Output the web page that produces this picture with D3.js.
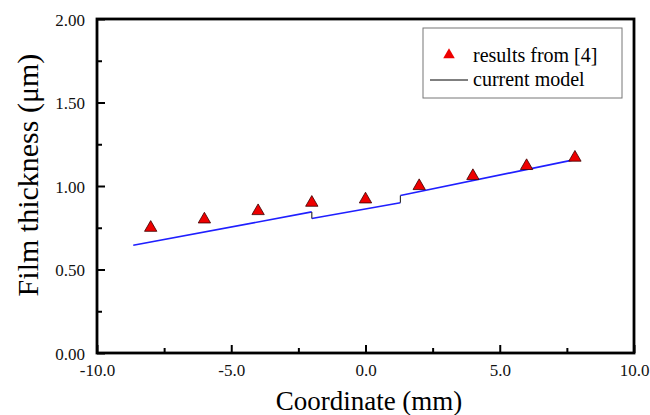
<!DOCTYPE html>
<html><head><meta charset="utf-8">
<script src="https://cdn.jsdelivr.net/npm/d3@7"></script>
<style>body{margin:0;background:#fff}svg{display:block}text{font-family:"Liberation Serif","Times New Roman",serif}</style>
</head><body>
<script>
// Data
const refX = [-8, -6, -4, -2, 0, 2, 4, 6, 7.8];
const refY = [0.75, 0.80, 0.85, 0.90, 0.92, 1.00, 1.06, 1.12, 1.17];
const modelSeg1 = [[-8.65, 0.645], [-2.0, 0.845]];
const modelSeg2 = [[-2.0, 0.805], [1.3, 0.90]];
const modelSeg3 = [[1.3, 0.943], [7.7, 1.155]];
const modelSteps = [[[-2.0, 0.845], [-2.0, 0.805]], [[1.3, 0.90], [1.3, 0.943]]];
const xTicks = [-10, -5, 0, 5, 10];
const xMinor = [-7.5, -2.5, 2.5, 7.5];
const yTicks = [0, 0.5, 1.0, 1.5, 2.0];
const yMinor = [0.25, 0.75, 1.25, 1.75];
const legendLabels = ["results from [4]", "current model"];

const W = 650, H = 415;
const L = 97, R = 634, T = 19, B = 353;
const FONT = '"Liberation Serif","Times New Roman",serif';
const svg = d3.select("body").append("svg").attr("width", W).attr("height", H);
const x = d3.scaleLinear().domain([-10, 10]).range([L, R]);
const y = d3.scaleLinear().domain([0, 2]).range([B, T]);

// frame
svg.append("rect").attr("x", L).attr("y", T).attr("width", R - L).attr("height", B - T)
  .attr("fill", "none").attr("stroke", "#000").attr("stroke-width", 2.8);

// axes
const xAxis = svg.append("g").attr("transform", `translate(0,${B})`)
  .call(d3.axisBottom(x).tickValues(xTicks).tickSize(-8).tickPadding(11).tickFormat(d => d.toFixed(1)));
const yAxis = svg.append("g").attr("transform", `translate(${L},0)`)
  .call(d3.axisLeft(y).tickValues(yTicks).tickSize(-8).tickPadding(12).tickFormat(d => d.toFixed(2)));
svg.append("g").attr("transform", `translate(0,${B})`)
  .call(d3.axisBottom(x).tickValues(xMinor).tickSize(-5).tickFormat(""));
svg.append("g").attr("transform", `translate(${L},0)`)
  .call(d3.axisLeft(y).tickValues(yMinor).tickSize(-5).tickFormat(""));
svg.selectAll("g").attr("font-family", FONT);
svg.selectAll(".domain").remove();
svg.selectAll(".tick line").attr("stroke", "#000").attr("stroke-width", 2);
svg.selectAll(".tick text").attr("font-size", 17).attr("fill", "#111").attr("font-family", FONT);
yAxis.selectAll(".tick text").attr("dy", "0.38em");

// model line
const line = d3.line().x(d => x(d[0])).y(d => y(d[1]));
[modelSeg1, modelSeg2, modelSeg3].forEach(s => {
  svg.append("path").attr("d", line(s)).attr("fill", "none").attr("stroke", "#1f1fff").attr("stroke-width", 1.6);
});
modelSteps.forEach(s => {
  svg.append("path").attr("d", line(s)).attr("fill", "none").attr("stroke", "#333").attr("stroke-width", 1.2);
});

// triangles
const tri = d3.symbol().type(d3.symbolTriangle).size(66);
svg.selectAll(".pt").data(refX.map((v, i) => [v, refY[i]])).join("path")
  .attr("transform", d => `translate(${x(d[0])},${y(d[1])})`)
  .attr("d", tri).attr("fill", "#ee0000").attr("stroke", "#3a0000").attr("stroke-width", 0.8);

// legend
svg.append("rect").attr("x", 423).attr("y", 28).attr("width", 199).attr("height", 70)
  .attr("fill", "#fff").attr("stroke", "#777").attr("stroke-width", 1);
svg.append("path").attr("transform", "translate(449,55)").attr("d", d3.symbol().type(d3.symbolTriangle).size(58))
  .attr("fill", "#ee0000");
svg.append("text").attr("x", 473).attr("y", 62).attr("font-size", 20).text(legendLabels[0]);
svg.append("line").attr("x1", 430).attr("x2", 468).attr("y1", 80).attr("y2", 80).attr("stroke", "#000").attr("stroke-width", 1);
svg.append("text").attr("x", 473).attr("y", 86).attr("font-size", 20).text(legendLabels[1]);

// axis titles
svg.append("text").attr("x", 369).attr("y", 410).attr("text-anchor", "middle")
  .attr("font-size", 27).text("Coordinate (mm)");
svg.append("text").attr("transform", `translate(38,175) rotate(-90)`).attr("text-anchor", "middle")
  .attr("font-size", 30).text("Film thickness (μm)");
</script>
</body></html>
